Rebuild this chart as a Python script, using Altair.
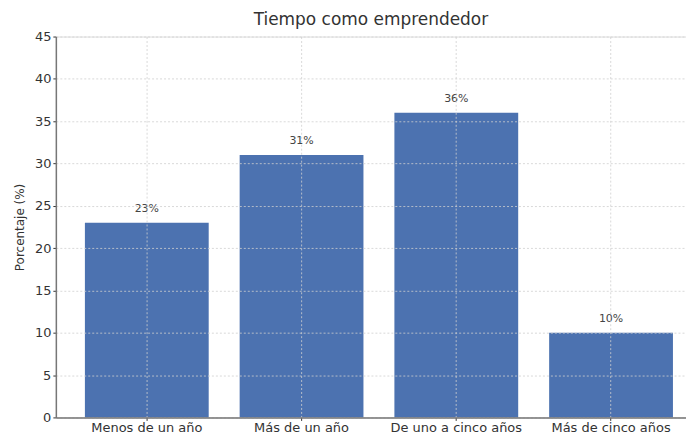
import altair as alt
import pandas as pd

categories = ["Menos de un año", "Más de un año", "De uno a cinco años", "Más de cinco años"]
values = [23, 31, 36, 10]
labels = ["23%", "31%", "36%", "10%"]

df = pd.DataFrame({"cat": categories, "val": values, "lab": labels})

x = alt.X("cat:N", sort=categories, title=None,
          scale=alt.Scale(paddingInner=0.2, paddingOuter=0.136, align=0.69),
          axis=alt.Axis(labelAngle=0, labelFontSize=13, labelColor="#333",
                        domainColor="#777", domainWidth=1.5, tickColor="#333",
                        tickSize=3, grid=True, gridColor="#cfcfcf", gridDash=[2, 2],
                        gridWidth=0.8, labelPadding=1, zindex=1, tickExtra=False))
y = alt.Y("val:Q", title="Porcentaje (%)",
          scale=alt.Scale(domain=[0, 45], nice=False),
          axis=alt.Axis(values=list(range(0, 46, 5)), labelFontSize=13, labelColor="#333",
                        titleFontSize=12, titleFontWeight="normal", titleColor="#333",
                        domainColor="#777", domainWidth=1.5, tickColor="#333", tickSize=3,
                        grid=True, gridColor="#cfcfcf", gridDash=[2, 2], gridWidth=0.8,
                        titlePadding=8, zindex=1))

bars = alt.Chart(df).mark_bar(color="#4C72B0").encode(x=x, y=y)
text = alt.Chart(df).mark_text(dy=-9, fontSize=11, color="#444", baseline="bottom").encode(
    x=alt.X("cat:N", sort=categories), y="val:Q", text="lab:N")

chart = (bars + text).properties(
    width=632, height=382,
    title=alt.TitleParams("Tiempo como emprendedor", fontSize=17, fontWeight="normal",
                          color="#333", offset=2),
).configure_view(strokeWidth=0).configure(font="DejaVu Sans", padding={"left": 5, "top": 2, "right": 0, "bottom": 0})

chart.save("out.html", embed_options={"renderer": "svg", "actions": False})
